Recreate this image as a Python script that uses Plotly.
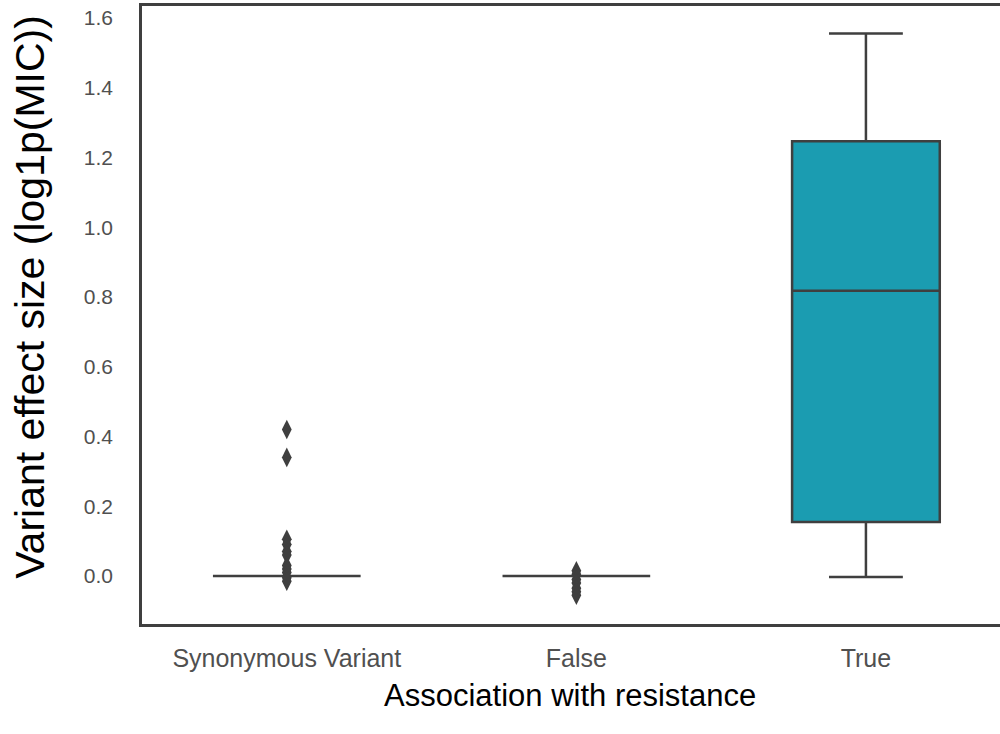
import plotly.graph_objects as go

# Groups on the x axis
categories = ["Synonymous Variant", "False", "True"]

# Box statistics per group (log1p(MIC) effect size)
q1_vals = [0.0, 0.0, 0.155]
median_vals = [0.0, 0.0, 0.818]
q3_vals = [0.0, 0.0, 1.246]
lower_fence = [0.0, 0.0, -0.003]
upper_fence = [0.0, 0.0, 1.555]

# Points beyond the whiskers
syn_outliers = [0.42, 0.34, 0.105, 0.09, 0.07, 0.06, 0.03, 0.02, 0.01, -0.005, -0.015]
false_outliers = [0.015, 0.005, -0.01, -0.02, -0.035, -0.045, -0.055]

box_colors = ["#3a8fb7", "#2c8fa8", "#1b9cb1"]
y_ticks = [0.0, 0.2, 0.4, 0.6, 0.8, 1.0, 1.2, 1.4, 1.6]

EDGE = "#3f3f3f"
TICK_GRAY = "#505050"
FONT = "Liberation Sans, Arial, sans-serif"

fig = go.Figure()

for i, cat in enumerate(categories):
    fig.add_trace(go.Box(
        x=[cat],
        q1=[q1_vals[i]],
        median=[median_vals[i]],
        q3=[q3_vals[i]],
        lowerfence=[lower_fence[i]],
        upperfence=[upper_fence[i]],
        width=0.51,
        fillcolor=box_colors[i],
        line=dict(color=EDGE, width=2.5),
        whiskerwidth=0.5,
        boxpoints=False,
        showlegend=False,
        hoverinfo="skip",
    ))

outlier_groups = [(categories[0], syn_outliers), (categories[1], false_outliers)]
for cat, vals in outlier_groups:
    fig.add_trace(go.Scatter(
        x=[cat] * len(vals),
        y=vals,
        mode="markers",
        marker=dict(symbol="diamond-tall", size=14, color=EDGE, line=dict(width=0)),
        showlegend=False,
        hoverinfo="skip",
    ))

fig.update_layout(
    width=1000,
    height=734,
    margin=dict(l=142, r=0, t=6, b=110),
    paper_bgcolor="white",
    plot_bgcolor="white",
    boxmode="overlay",
    font=dict(family=FONT, color=TICK_GRAY),
    annotations=[
        dict(text="Association with resistance", xref="paper", yref="paper",
             x=0.499, y=-0.116, xanchor="center", yanchor="middle",
             showarrow=False, font=dict(size=31, color="black", family=FONT)),
        dict(text="Variant effect size (log1p(MIC))", xref="paper", yref="paper",
             x=-0.131, y=0.529, xanchor="center", yanchor="middle", textangle=-90,
             showarrow=False, font=dict(size=41, color="black", family=FONT)),
    ],
)

fig.update_xaxes(
    type="category",
    categoryorder="array",
    categoryarray=categories,
    range=[-0.5, 2.463],
    showline=True,
    linecolor=EDGE,
    linewidth=2.5,
    mirror=True,
    showgrid=False,
    zeroline=False,
    ticks="",
    ticklabelstandoff=10,
    tickfont=dict(size=25, color=TICK_GRAY, family=FONT),
)

fig.update_yaxes(
    range=[-0.1376, 1.634],
    tickvals=y_ticks,
    tickformat=".1f",
    showline=True,
    linecolor=EDGE,
    linewidth=2.5,
    mirror=False,
    showgrid=False,
    zeroline=False,
    ticks="",
    ticklabelstandoff=22,
    tickfont=dict(size=21, color=TICK_GRAY, family=FONT),
)

fig.write_html("out.html")
